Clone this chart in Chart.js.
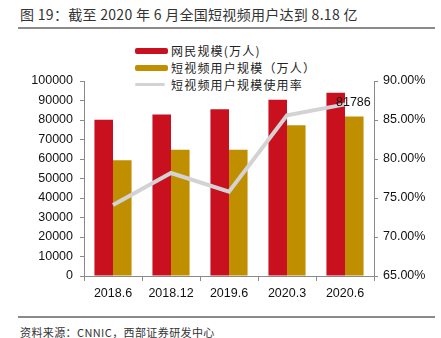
<!DOCTYPE html>
<html lang="zh-CN">
<head>
<meta charset="UTF-8"/>
<title>短视频用户规模</title>
<script src="https://cdn.jsdelivr.net/npm/chart.js@4.4.1/dist/chart.umd.min.js"></script>
<style>
  body { margin: 0; background: #fff; }
  #page { position: relative; width: 441px; height: 338px; overflow: hidden; font-family: "Noto Sans CJK SC", sans-serif; color: #222; }
  #title { position: absolute; left: 20px; top: 4px; font-size: 14px; letter-spacing: 0.3px; white-space: nowrap; color: #333; }
  .rule { position: absolute; left: 18px; width: 417px; height: 2px; background: #8a8a8a; }
  #source { position: absolute; left: 20px; top: 324px; font-size: 11px; letter-spacing: 0.4px; white-space: nowrap; color: #333; }
  #legend { position: absolute; left: 135px; top: 42px; font-size: 12px; letter-spacing: 1.2px; line-height: 17px; color: #222; }
  #legend div { display: flex; align-items: center; height: 17px; }
  #legend span.sw { display: inline-block; width: 33px; margin-right: 3px; border-radius: 2px; }
  #box { position: absolute; left: 0; top: 41px; width: 441px; height: 270px; }
</style>
</head>
<body>
<div id="page">
  <div id="title">图 19：截至 2020 年 6 月全国短视频用户达到 8.18 亿</div>
  <div class="rule" style="top:27px"></div>
  <div id="legend"></div>
  <div id="box"><canvas id="chart"></canvas></div>
  <div class="rule" style="top:316px"></div>
  <div id="source">资料来源：CNNIC，西部证券研发中心</div>
</div>
<script>
  const periods = ['2018.6', '2018.12', '2019.6', '2020.3', '2020.6'];
  const netizens = [80166, 82851, 85449, 90359, 93984];        // 网民规模(万人)
  const videoUsers = [59403, 64798, 64764, 77325, 81786];      // 短视频用户规模（万人）
  const usageRate = [74.1, 78.2, 75.8, 85.6, 87.0];            // 使用率 %

  const names = ['网民规模(万人)', '短视频用户规模（万人）', '短视频用户规模使用率'];
  const colors = ['#C8101F', '#BF8F00', '#D3D3D3'];

  // legend built as plain html, stacked vertically
  const legend = document.getElementById('legend');
  names.forEach((n, i) => {
    const row = document.createElement('div');
    const sw = document.createElement('span');
    sw.className = 'sw';
    sw.style.background = colors[i];
    sw.style.height = i === 2 ? '3px' : '6px';
    if (i === 2) sw.style.width = '30px';
    if (i === 2) sw.style.marginRight = '6px';
    row.appendChild(sw);
    row.appendChild(document.createTextNode(n));
    legend.appendChild(row);
  });

  // value label next to the last point of the rate line
  const endLabel = {
    id: 'endLabel',
    afterDatasetsDraw(chart) {
      const pt = chart.getDatasetMeta(2).data[periods.length - 1];
      const ctx = chart.ctx;
      ctx.save();
      ctx.font = '12.5px "Liberation Sans"';
      ctx.fillStyle = '#111';
      ctx.textAlign = 'left';
      ctx.textBaseline = 'middle';
      ctx.fillText(String(videoUsers[videoUsers.length - 1]), pt.x - 9, pt.y - 2);
      ctx.restore();
    }
  };

  const tickFont = { family: '"Liberation Sans"', size: 12.5 };
  const axisGray = '#8a8a8a';

  new Chart(document.getElementById('chart'), {
    type: 'bar',
    data: {
      labels: periods,
      datasets: [
        { label: names[0], data: netizens, backgroundColor: colors[0], yAxisID: 'y', order: 2,
          barPercentage: 1, categoryPercentage: 0.64 },
        { label: names[1], data: videoUsers, backgroundColor: colors[1], yAxisID: 'y', order: 2,
          barPercentage: 1, categoryPercentage: 0.64 },
        { label: names[2], type: 'line', data: usageRate, borderColor: colors[2], borderWidth: 4,
          pointRadius: 0, yAxisID: 'y1', order: 1, tension: 0 }
      ]
    },
    options: {
      responsive: true,
      maintainAspectRatio: false,
      animation: false,
      layout: { padding: { top: 40, left: 0, right: 0, bottom: 0 } },
      plugins: { legend: { display: false }, tooltip: { enabled: false } },
      scales: {
        x: {
          grid: { drawOnChartArea: false, tickLength: 5, color: axisGray, offset: true },
          border: { color: axisGray },
          ticks: { font: tickFont, color: '#111', padding: 5 },
          afterFit(s) { s.height = 35; }
        },
        y: {
          position: 'left',
          min: 0, max: 100000,
          grid: { drawOnChartArea: false, tickLength: 4, color: axisGray },
          border: { color: axisGray },
          ticks: { stepSize: 10000, font: tickFont, color: '#111', padding: 7,
                   callback: v => String(v) },
          afterFit(s) { s.width = 84; }
        },
        y1: {
          position: 'right',
          min: 65, max: 90,
          grid: { drawOnChartArea: false, tickLength: 4, color: axisGray },
          border: { color: axisGray },
          ticks: { stepSize: 5, font: tickFont, color: '#111', padding: 5,
                   callback: v => v.toFixed(2) + '%' },
          afterFit(s) { s.width = 67; }
        }
      }
    },
    plugins: [endLabel]
  });
</script>
</body>
</html>
